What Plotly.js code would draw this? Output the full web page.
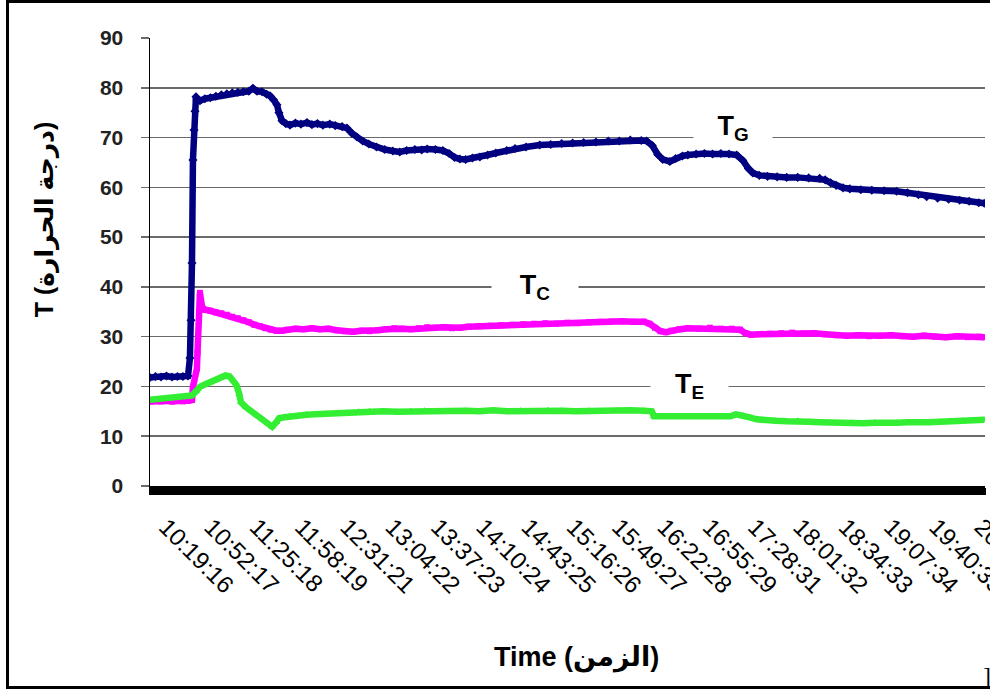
<!DOCTYPE html>
<html><head><meta charset="utf-8">
<script src="https://cdn.plot.ly/plotly-3.0.1.min.js"></script>
<style>
html,body{margin:0;padding:0;background:#fff;overflow:hidden;width:990px;height:690px;}
#frame{position:absolute;left:6px;top:0;width:1000px;height:683px;border:3px solid #000;}
#chart{position:absolute;left:0;top:0;width:990px;height:690px;}
</style></head><body>
<div id="frame"></div><div id="chart"></div>
<script>
// ---- data ----
const startTime = "10:19:16";
const tickLabels = ["10:19:16","10:52:17","11:25:18","11:58:19","12:31:21","13:04:22","13:37:23","14:10:24","14:43:25","15:16:26","15:49:27","16:22:28","16:55:29","17:28:31","18:01:32","18:34:33","19:07:34","19:40:35","20:13:36"];

// elapsed minutes since startTime
const tgMinutes = [0,4,8,12,16,20,24,27.7,29.1,29.9,30.6,31.3,32.1,32.8,33.5,34.2,36.4,40,44,48,52,56,60,64,68,72,75,78,81.6,85,87.4,90,92.5,94,96.2,99,102,106,110,114.4,118,122,126,131,135,140,143.5,147,150.8,155,159.5,165,171,177,182,187,193,198,202,208,213.4,218,222,225.8,230,235,240.4,246,252,260,266,274,284,292,300,308,316,325,334,342,350,358,362,366,370,373.7,378.8,383,388,392,398,404,410,416,422,427.6,432,436,439.3,444,450,457,464,472,480,488,492,496,500,505,510,518,526,535,544,552,560,566,574,582,590,597,604,608];
const tgValues  = [21.8,22.0,21.9,22.1,21.9,22.0,22.0,22.1,25.7,33.3,44.8,65.5,71.5,75.3,78.2,77.6,77.4,77.8,78.0,78.3,78.6,78.8,79.0,79.1,79.2,79.3,79.9,79.3,79.2,78.7,78.4,77.6,76.6,75.0,73.4,72.8,72.5,72.9,72.7,73.0,72.6,72.8,72.5,72.7,72.4,72.2,71.9,70.9,70.1,69.3,68.7,68.1,67.6,67.3,67.1,67.4,67.6,67.5,67.7,67.6,67.4,66.8,66.0,65.7,65.6,65.9,66.1,66.5,66.9,67.4,67.8,68.1,68.5,68.6,68.8,68.9,69.0,69.1,69.3,69.3,69.5,69.4,69.3,68.4,66.6,65.6,65.2,65.8,66.3,66.5,66.7,66.8,66.7,66.8,66.7,66.5,65.4,63.8,62.9,62.4,62.2,62.1,62.0,62.0,61.9,61.8,61.5,60.9,60.4,59.9,59.7,59.5,59.4,59.3,59.2,58.9,58.5,58.1,57.8,57.6,57.4,57.2,56.9,56.8];

const tcMinutes = [0,4,8,12,16,20,24,28,30.6,31.3,34.2,34.6,36.4,37.9,40,44,48,52,56,60,64,68,72,76,80,84,88,92,96,100,106,112,118,124,130,136,142,148,154,160,166,172,178,184,190,196,202,208,214,220,226,232,240,248,256,264,272,280,288,296,304,312,320,328,336,344,352,360,364,368,372,376,380,386,392,400,408,416,424,430,434,438,444,452,460,468,476,484,492,500,508,516,524,532,540,548,556,564,572,580,588,596,604,608];
const tcValues  = [17.0,17.1,17.0,17.1,17.0,17.1,17.0,17.1,17.3,19.9,23.6,26.7,38.8,36.0,35.4,35.2,34.9,34.7,34.4,34.0,33.7,33.3,32.9,32.4,32.1,31.7,31.4,31.2,31.2,31.4,31.6,31.5,31.7,31.5,31.6,31.3,31.1,31.0,31.2,31.1,31.3,31.5,31.7,31.6,31.5,31.7,31.9,31.8,31.9,31.7,31.8,32.0,32.1,32.2,32.3,32.4,32.5,32.6,32.7,32.6,32.8,32.7,32.9,33.0,33.0,33.1,33.0,33.0,32.6,31.8,31.1,30.9,31.2,31.5,31.7,31.6,31.8,31.6,31.6,31.4,30.7,30.4,30.5,30.6,30.7,30.8,30.6,30.7,30.5,30.3,30.2,30.3,30.1,30.2,30.3,30.1,30.0,30.2,30.0,29.9,30.1,29.9,30.0,29.9];

const teMinutes = [0,4,8,12,16,20,24,28,30.6,33.5,36.4,40,44,48,52,55,58,61,63,65,66.3,70,74,78,82,86,89,92,94,98,102,108,114,120,128,136,144,152,160,170,180,190,200,210,220,230,240,250,260,270,280,290,300,310,320,330,340,350,360,365.7,367.2,423,427,432,437,442,448,456,464,472,480,488,496,504,512,520,528,536,544,552,560,568,576,584,592,600,608];
const teValues  = [17.3,17.4,17.5,17.6,17.7,17.8,17.9,18.0,18.2,19.0,19.9,20.4,20.8,21.3,21.8,22.2,22.0,21.2,20.3,18.5,16.8,15.8,15.0,14.2,13.4,12.6,11.9,12.8,13.6,13.8,14.0,14.1,14.3,14.4,14.5,14.6,14.7,14.9,15.0,15.0,14.9,15.0,15.1,14.9,15.0,15.1,15.0,15.2,15.0,15.1,15.0,15.2,15.1,15.0,15.1,15.0,15.1,15.2,15.1,15.0,14.0,14.0,14.4,14.2,13.8,13.4,13.2,13.1,13.0,13.1,12.9,12.8,12.7,12.6,12.7,12.6,12.7,12.6,12.7,12.8,12.7,12.8,12.9,13.0,13.1,13.2,13.3];

// ---- build ----
function toSec(s){const p=s.split(':').map(Number);return p[0]*3600+p[1]*60+p[2];}
const tickVals = tickLabels.map(l => (toSec(l)-toSec(startTime))/60);
const FONT = 'Liberation Sans, Arial, DejaVu Sans, sans-serif';

const traces = [
  {x:tgMinutes, y:tgValues, name:'TG', mode:'lines+markers', line:{color:'#000080', width:6.5}, marker:{symbol:'diamond', size:7, color:'#000080'}},
  {x:tcMinutes, y:tcValues, name:'TC', mode:'lines+markers', line:{color:'#ff00ff', width:6.5}, marker:{symbol:'square', size:6, color:'#ff00ff'}},
  {x:teMinutes, y:teValues, name:'TE', mode:'lines+markers', line:{color:'#33ee33', width:6.5}, marker:{symbol:'triangle-up', size:7, color:'#33ee33'}}
];

const layout = {
  width:990, height:690,
  margin:{l:150, r:5, t:38, b:204},
  paper_bgcolor:'rgba(0,0,0,0)', plot_bgcolor:'rgba(0,0,0,0)',
  showlegend:false,
  font:{family:FONT, color:'#000'},
  xaxis:{
    type:'linear', range:[0,608.5], showgrid:false, zeroline:false,
    showline:true, linecolor:'#000', linewidth:1.5,
    tickmode:'array', tickvals:tickVals, ticktext:tickLabels,
    ticks:'outside', ticklen:7, tickwidth:1.5, tickcolor:'#000',
    tickangle:45, tickfont:{family:FONT, size:24, color:'#000'},
    minor:{tickmode:'linear', tick0:0, dtick:0.5, ticks:'outside', ticklen:7, tickwidth:1, tickcolor:'#000', showgrid:false},
    ticklabelstandoff:9, ticklabelshift:16, ticklabeloverflow:'allow', automargin:false, fixedrange:true
  },
  yaxis:{
    range:[0,90], tickmode:'linear', tick0:0, dtick:10,
    showgrid:true, gridcolor:'#6a6a6a', gridwidth:1.6, zeroline:false,
    showline:true, linecolor:'#000', linewidth:1.5,
    ticks:'outside', ticklen:8, tickwidth:1.5, tickcolor:'#6a6a6a',
    tickfont:{family:FONT, size:21, color:'#222', weight:'bold'},
    ticklabelstandoff:13, automargin:false, fixedrange:true
  },
  annotations:[
    {xref:'paper', yref:'paper', x:(45-150)/835, y:(485.5-220)/447.5, text:'T (درجة الحرارة)', textangle:-90, showarrow:false, xanchor:'center', yanchor:'middle', font:{family:FONT, size:25, color:'#000', weight:'bold'}},
    {xref:'paper', yref:'paper', x:(576-150)/835, y:(485.5-657)/447.5, text:'Time (الزمن)', showarrow:false, xanchor:'center', yanchor:'middle', font:{family:FONT, size:27, color:'#000', weight:'bold'}},
    {xref:'paper', yref:'paper', x:(987-150)/835, y:(485.5-675)/447.5, text:']', showarrow:false, xanchor:'center', yanchor:'middle', font:{family:'Liberation Serif, serif', size:24, color:'#000'}},
    {x:425, y:70, xref:'x', yref:'y', text:'T<sub>G</sub>', showarrow:false, xanchor:'center', yanchor:'middle', yshift:10, width:76, height:34, bgcolor:'#fff', font:{family:FONT, size:27, color:'#000', weight:'bold'}},
    {x:280.5, y:40, xref:'x', yref:'y', text:'T<sub>C</sub>', showarrow:false, xanchor:'center', yanchor:'middle', width:84, height:34, bgcolor:'#fff', font:{family:FONT, size:27, color:'#000', weight:'bold'}},
    {x:393, y:20, xref:'x', yref:'y', text:'T<sub>E</sub>', showarrow:false, xanchor:'center', yanchor:'middle', width:75, height:34, bgcolor:'#fff', font:{family:FONT, size:27, color:'#000', weight:'bold'}}
  ]
};

Plotly.newPlot('chart', traces, layout, {displayModeBar:false, staticPlot:true});
</script>
</body></html>
